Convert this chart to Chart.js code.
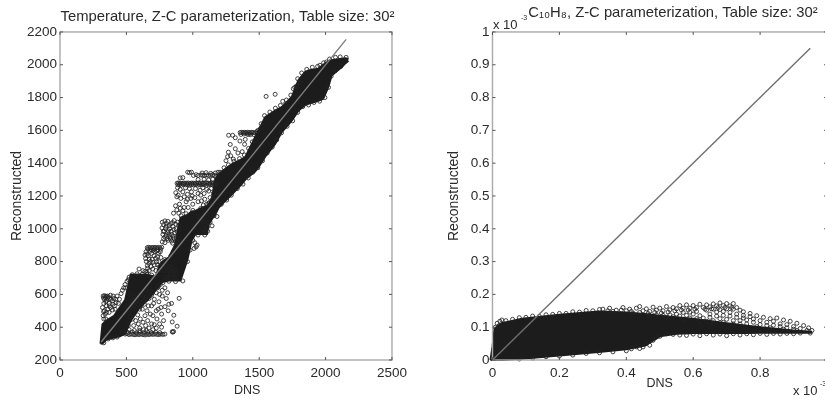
<!DOCTYPE html>
<html><head><meta charset="utf-8">
<script src="https://cdn.jsdelivr.net/npm/chart.js@4"></script>
<style>
html,body{margin:0;padding:0;background:#fff;overflow:hidden;width:825px;height:401px}
canvas{position:absolute;top:0;filter:blur(0.55px)}
#a{left:0}#b{left:412px}
</style></head><body>
<canvas id="a" width="412" height="401"></canvas>
<canvas id="b" width="522" height="401"></canvas>
<script>
// ---- Temperature panel
const tempTitle = "Temperature, Z-C parameterization, Table size: 30²";
const tempDiagonal = [[310,310],[2155,2155]];
const tempCoreX =     [305,320,350,407,450,490,532,600,660,720,745,770,820,870,907,957,975,990,1020,1045,1107,1120,1145,1170,1195,1245,1295,1370,1395,1470,1495,1545,1620,1670,1745,1795,1845,1870,1945,1982,2020,2045,2120,2150,2172];
const tempCoreUpper = [300,418,440,470,520,565,720,722,718,708,765,800,826,907,1068,1085,1095,1105,1109,1120,1140,1150,1190,1300,1335,1365,1395,1425,1437,1559,1600,1680,1720,1742,1803,1905,1956,1965,1976,2000,2020,2027,2037,2040,2035];
const tempCoreLower = [300,300,325,337,345,360,440,520,565,624,650,675,685,685,685,806,867,927,968,968,968,1028,1060,1089,1130,1170,1210,1274,1300,1350,1376,1440,1518,1590,1660,1720,1755,1762,1780,1793,1864,1935,1985,2010,2025];
const tempEdge = [
[1205,1345],[1235,1372],[1268,1390],[1310,1412],[1352,1428],[1388,1450],[1420,1490],[1448,1530],[1482,1592],[1515,1640],[1540,1690],[1580,1712],[1622,1735],[1660,1752],[1705,1785],[1738,1815],[1768,1862],[1790,1915],[1820,1950],[1858,1972],[1900,1985],[1940,1990],[1985,2012],[2030,2035],[2075,2045],[2110,2048],[2155,2045],
[1215,1150],[1255,1175],[1290,1205],[1335,1245],[1378,1272],[1418,1310],[1452,1345],[1490,1372],[1525,1415],[1560,1462],[1598,1498],[1632,1542],[1668,1585],[1710,1625],[1752,1658],[1790,1710],[1828,1745],[1872,1755],[1912,1770],[1955,1778],[1995,1800],[2022,1862],[2042,1930],[2075,1965],[2115,1990],
[545,720],[580,726],[620,724],[655,722],[690,718],[725,710],[755,770],[790,812],[835,835],[880,925],[912,1080],[950,1092],[1000,1112],[1060,1125],[1120,1155],
[565,535],[610,530],[650,580],[695,615],[740,648],[775,672],[820,680],[870,678],[925,682],[960,800],[980,870],[1000,930],[1040,962],[1090,962],[1112,985],[1130,1040],[1160,1080],
[330,305],[362,328],[398,335],[430,340],[470,365]
];
const tempOutliers = [
[1552,1807],[1620,1820],[1677,1777],[1757,1854],[1780,1870],[1957,1997],[2007,2017],[1810,1890],
[1270,1570],[1300,1570],[1282,1514],[1268,1467],[1320,1488],[1355,1535],[1390,1515],[1420,1575],[1340,1462],[1372,1470],[1262,1440],[1285,1445],[1305,1425],[1250,1415],[1420,1440],[1445,1495],[1470,1540],[1320,1555],[1395,1545],
[1145,1018],[1182,1075],[1445,1355],[595,755],[845,372],[850,370],[855,374],[882,406],[845,432],[857,473],[897,576]
];
const tempShelves = [
[1357,1587],[1368,1588],[1379,1587],[1390,1588],[1401,1586],[1412,1588],[1423,1587],[1434,1586],[1445,1588],[1456,1586],[1468,1585],[1482,1590],[1510,1612],[1490,1600],[1362,1575],[1385,1578],[1410,1577],[1435,1575],[1460,1574],
[882,1278],[893,1279],[905,1278],[918,1277],[930,1279],[942,1278],[955,1278],[967,1279],[980,1277],[992,1279],[1005,1278],[1018,1278],[1030,1277],[1043,1279],[1055,1278],[1068,1278],[1080,1277],[1093,1279],[1105,1278],[1118,1278],[1130,1277],[1143,1279],[1155,1278],[1170,1277],[1182,1278],
[888,1268],[900,1270],[914,1266],[928,1271],[946,1268],[960,1270],[976,1266],[990,1270],[1004,1268],[1022,1270],[1038,1266],[1052,1269],[1070,1268],[1086,1270],[1102,1266],[1120,1269],[1136,1270],[1150,1268],[1166,1266],
[905,1310],[925,1312],[962,1345],[975,1342],[990,1345],[1005,1325],[1025,1330],[1040,1325],[1062,1328],[1075,1326],[1090,1325],[1105,1328],[1120,1325],[1135,1326],[1150,1330],[1165,1325],[1180,1320],[1040,1300],[1085,1302],[1120,1298],[1150,1302],[1070,1340],[1100,1342],[1135,1338],[1170,1340],[1190,1345],
[657,885],[668,887],[680,884],[692,886],[704,885],[716,887],[728,884],[740,886],[752,885],[766,887],[662,875],[686,873],[710,876],[735,874],[758,875],
[325,590],[335,592],[345,588],[355,590],[365,585],[380,595],[400,590],[328,578],[342,580],[358,577],[372,576],
[470,370],[490,358],[505,360],[520,355],[535,358],[550,356],[565,354],[580,357],[595,355],[610,358],[625,355],[640,353],[655,357],[670,355],[685,358],[700,356],[715,358],[730,356],[745,355],[760,358],[775,356],[790,358],
[480,372],[512,368],[545,370],[575,366],[600,369],[632,366],[662,368],[690,367],[722,368],[752,367]
];
const tempBlocks = [
[885,1250],[872,1220],[880,1195],[890,1205],[990,1225],[995,1200],[1055,1235],[1105,1240],[1060,1205],[1120,1230],[1090,1180],[1130,1190],[950,1165],[935,1130],[900,1150],[880,1115],[895,1095],[925,1110],[965,1130],[1000,1150],[1040,1165],[985,1185],[870,1140],[855,1095],[1080,1145],
[905,1240],[925,1225],[945,1250],[960,1210],[975,1245],[1020,1245],[1040,1215],[1075,1250],[1140,1245],[1155,1215],[1150,1180],[910,1185],[935,1195],[960,1180],[905,1125],[1015,1190],[1085,1215],[1125,1160],[1105,1150],[1065,1170],
[770,1040],[790,1048],[812,1045],[835,1030],[860,1050],[885,1040],[768,1005],[785,985],[800,1015],[825,1000],[850,1015],[875,1000],[775,965],[790,950],[810,975],[840,965],[865,975],[890,960],[790,915],[815,930],[840,925],[860,940],[770,920],[880,920],[830,950],
[780,1025],[802,1032],[822,1020],[848,1038],[872,1028],[895,1020],[778,985],[795,1000],[815,988],[838,985],[858,995],[882,982],[800,960],[822,962],[852,955],[875,945],[805,940],[830,938],[848,912],[868,925],[895,940],[900,1000],[780,940],
[1075,1045],[1090,1020],[1055,1035],[1070,1000],[1095,985],[1040,1075],[1015,915],[1025,890],[1010,880],[1032,900],[1085,1060],[1060,1065],[1100,1040],[1110,1010],[1080,975],
[648,860],[665,835],[690,850],[715,860],[742,850],[650,800],[670,790],[695,815],[720,820],[745,800],[640,840],[660,760],[685,770],[710,780],[735,780],[640,740],[625,745],
[655,845],[678,862],[702,868],[728,866],[755,860],[645,818],[672,815],[708,835],[735,830],[760,825],[658,775],[680,800],[700,795],[728,800],[750,770],[672,745],[698,755],[722,745],[655,735],
[780,745],[800,760],[820,770],[845,765],[865,750],[790,705],[810,725],[830,735],[855,720],[880,700],[835,700],[805,695],[825,755],[848,745],[870,725],[815,705],[860,700],
[345,555],[370,545],[395,560],[420,570],[440,545],[320,520],[335,500],[360,510],[380,520],[410,530],[325,470],[345,450],[430,590],[460,605],[480,640],[505,680],[520,705],[490,660],
[335,570],[352,565],[382,570],[405,575],[330,545],[350,530],[372,530],[398,540],[422,550],[448,570],[328,495],[350,490],[370,490],[395,505],[330,450],[340,480],[415,510],[470,625],[515,690],[495,640],
[525,600],[560,585],[600,600],[640,625],[680,620],[725,610],[750,600],[770,590],[800,575],[790,640],[755,660],[840,545],[820,540],[790,525],[745,555],[710,570],[670,575],[630,565],[585,540],[550,510],[520,490],[545,450],[585,475],[620,510],[655,500],[690,530],[725,500],[700,470],[660,440],[625,430],[590,420],[555,410],[730,450],[765,480],[780,440],[750,420],[710,415],[670,395],[630,385],
[540,555],[575,560],[610,575],[650,590],[690,595],[735,640],[770,625],[810,610],[560,530],[600,510],[635,540],[665,530],[705,545],[760,520],[815,500],[525,440],[515,410],[570,440],[605,450],[640,470],[680,480],[740,510],[520,385],[560,380],[600,395],[645,410],[690,420],[725,395],[765,400],[600,380],[650,380],[700,385],[510,520],[530,465]
];
// ---- C10H8 panel
const nphTitle = "C₁₀H₈, Z-C parameterization, Table size: 30²";
const nphDiagonal = [[0,0],[0.95,0.95]];
const nphCoreX =     [-0.006,0,0.006,0.028,0.088,0.2,0.317,0.4,0.456,0.5,0.55,0.606,0.7,0.756,0.8,0.9,0.955];
const nphCoreUpper = [0,0.04,0.096,0.112,0.126,0.138,0.148,0.145,0.14,0.135,0.13,0.125,0.112,0.105,0.1,0.09,0.086];
const nphCoreLower = [0,0,0,0,0.004,0.014,0.024,0.033,0.044,0.072,0.08,0.082,0.082,0.082,0.083,0.083,0.083];
const nphTopEdge = [
[0.008,0.1],[0.014,0.112],[0.022,0.118],[0.028,0.122],[0.02,0.105],
[0.04,0.12],[0.06,0.124],[0.08,0.129],[0.1,0.13],[0.12,0.134],[0.14,0.133],[0.16,0.138],[0.18,0.139],[0.2,0.142],[0.22,0.142],[0.24,0.147],[0.26,0.146],[0.28,0.151],[0.3,0.15],[0.32,0.154],
[0.33,0.155],[0.35,0.158],[0.37,0.152],[0.39,0.16],[0.41,0.155],[0.43,0.158],[0.44,0.163],[0.46,0.156],[0.48,0.161],[0.5,0.158],[0.52,0.163],[0.54,0.16],[0.56,0.166],[0.58,0.168],[0.6,0.166],[0.62,0.17],[0.64,0.168],[0.66,0.171],[0.68,0.174],[0.7,0.172],[0.72,0.172],
[0.73,0.16],[0.75,0.147],[0.77,0.142],[0.79,0.135],[0.81,0.13],[0.83,0.126],[0.85,0.128],[0.87,0.122],[0.89,0.118],[0.91,0.112],[0.93,0.105],[0.945,0.098],[0.955,0.09]
];
const nphBand = [
[0.36,0.148],[0.4,0.15],[0.42,0.143],[0.45,0.15],[0.47,0.148],[0.49,0.152],[0.51,0.15],[0.53,0.153],[0.55,0.156],[0.57,0.158],[0.59,0.158],[0.61,0.16],[0.63,0.16],[0.65,0.162],[0.67,0.165],[0.69,0.166],[0.71,0.165],
[0.345,0.15],[0.385,0.152],[0.415,0.148],[0.44,0.145],[0.465,0.142],[0.485,0.145],[0.505,0.143],[0.525,0.146],[0.545,0.15],[0.565,0.152],[0.585,0.152],[0.605,0.155],[0.635,0.155],[0.655,0.156],[0.675,0.16],[0.695,0.16],[0.715,0.16],
[0.47,0.136],[0.49,0.138],[0.51,0.136],[0.53,0.138],[0.55,0.14],[0.57,0.145],[0.59,0.146],[0.61,0.148],[0.64,0.152],[0.66,0.155],[0.68,0.154],[0.7,0.156],[0.72,0.155],[0.74,0.152],
[0.52,0.13],[0.54,0.132],[0.56,0.134],[0.58,0.136],[0.6,0.14],[0.62,0.135],[0.65,0.14],[0.67,0.146],[0.69,0.148],[0.71,0.145],[0.73,0.14],[0.75,0.136],
[0.57,0.124],[0.59,0.128],[0.61,0.126],[0.63,0.128],[0.65,0.13],[0.67,0.134],[0.69,0.136],[0.71,0.134],[0.73,0.13],[0.75,0.128],[0.77,0.132],[0.74,0.12],[0.76,0.122],[0.72,0.12],[0.7,0.124],[0.68,0.126],[0.66,0.12],[0.64,0.118],[0.62,0.118],
[0.78,0.125],[0.8,0.12],[0.82,0.115],[0.84,0.118],[0.86,0.11],[0.88,0.108],[0.9,0.102],[0.92,0.096],[0.94,0.09],[0.78,0.115],[0.8,0.108],[0.82,0.105],[0.84,0.106],[0.86,0.102],[0.88,0.098],[0.9,0.094],[0.76,0.11],[0.74,0.11],[0.72,0.11],[0.69,0.115],[0.66,0.112],[0.79,0.102],[0.83,0.098],[0.87,0.094],[0.91,0.09]
];
const nphLowerEdge = [
[0.48,0.06],[0.46,0.05],[0.45,0.04],[0.44,0.035],[0.47,0.045],[0.49,0.07],[0.43,0.04],[0.415,0.034],[0.5,0.072],[0.52,0.08],[0.54,0.078],[0.56,0.076],[0.58,0.075],[0.62,0.074],[0.66,0.076],[0.7,0.074],[0.74,0.076],[0.78,0.077],[0.82,0.078],[0.86,0.079],[0.9,0.08],[0.95,0.082],
[0.08,0.003],[0.12,0.006],[0.16,0.01],[0.2,0.012],[0.24,0.015],[0.28,0.02],[0.32,0.022],[0.36,0.025],[0.4,0.028],[0.6,0.079],[0.64,0.08],[0.68,0.079],[0.72,0.08],[0.76,0.08],[0.8,0.081],[0.84,0.081],[0.88,0.081],[0.92,0.082]
];

const axisText = '#2a2a2a';
const boxPlugin = {
  id:'matlabBox',
  afterLayout(chart){
    const dx = chart.options.plugins.matlabBox.titleShift||0;
    chart.titleBlock.left += dx; chart.titleBlock.right += dx;
  },
  afterDatasetsDraw(chart){
    const {ctx,chartArea:a,scales:{x,y}} = chart;
    ctx.save();
    ctx.strokeStyle='#a9a9a9';ctx.lineWidth=1.4;
    ctx.strokeRect(a.left,a.top,a.right-a.left,a.bottom-a.top);
    ctx.strokeStyle='#555';ctx.lineWidth=1;ctx.beginPath();
    x.ticks.forEach(t=>{const p=x.getPixelForValue(t.value);ctx.moveTo(p,a.bottom);ctx.lineTo(p,a.bottom-3);ctx.moveTo(p,a.top);ctx.lineTo(p,a.top+3);});
    y.ticks.forEach(t=>{const p=y.getPixelForValue(t.value);ctx.moveTo(a.left,p);ctx.lineTo(a.left+3,p);ctx.moveTo(a.right,p);ctx.lineTo(a.right-3,p);});
    ctx.stroke();
    (chart.options.plugins.matlabBox.notes||[]).forEach(n=>{
      ctx.fillStyle=axisText;ctx.font=n.font;ctx.textAlign='left';ctx.textBaseline='middle';
      ctx.fillText(n.text,n.x,n.y);
    });
    ctx.restore();
  }
};
const pts = a => a.map(([x,y])=>({x,y}));
const zipXY = (xs,ys) => xs.map((x,i)=>({x,y:ys[i]}));

function panel(id,cfg){
  const font = {family:'"Liberation Sans",Arial,sans-serif',size:13.5};
  return new Chart(document.getElementById(id),{
    type:'scatter',
    data:{datasets:[
      {data:pts(cfg.diagonal),showLine:true,borderColor:cfg.lineColor,borderWidth:1.4,pointRadius:0,clip:false,order:0},
      {data:pts(cfg.circles),pointRadius:2,pointBorderWidth:0.85,pointBackgroundColor:'rgba(0,0,0,0)',pointBorderColor:'#222',clip:false,order:1},
      {data:zipXY(cfg.coreX,cfg.upper),showLine:true,fill:'+1',backgroundColor:'#1c1c1c',borderColor:'#1c1c1c',borderWidth:2,pointRadius:0,clip:false,order:2},
      {data:zipXY(cfg.coreX,cfg.lower),showLine:true,borderColor:'#1c1c1c',borderWidth:2,pointRadius:0,clip:false,order:3}
    ]},
    options:{
      responsive:false,animation:false,
      layout:{padding:{left:0,right:cfg.padRight,top:0,bottom:0}},
      plugins:{
        legend:{display:false},tooltip:{enabled:false},
        title:{display:true,text:cfg.title,color:axisText,
          font:{family:font.family,size:14.8,weight:'normal'},padding:cfg.titlePad},
        matlabBox:{notes:cfg.notes,titleShift:cfg.titleShift}
      },
      scales:{
        x:{type:'linear',min:cfg.xMin,max:cfg.xMax,grid:{display:false,tickLength:0,drawTicks:false},border:{display:false},
          ticks:{stepSize:cfg.xStep,color:axisText,font,padding:5,maxRotation:0,callback:cfg.xCb},
          title:{display:cfg.xTitle,text:'DNS',color:axisText,font:{family:font.family,size:12.5},padding:{top:0,bottom:10}},
          afterFit:s=>{s.height=41;}},
        y:{type:'linear',min:cfg.yMin,max:cfg.yMax,grid:{display:false,tickLength:0,drawTicks:false},border:{display:false},
          ticks:{stepSize:cfg.yStep,color:axisText,font,padding:3,callback:cfg.yCb},
          title:{display:true,text:'Reconstructed',color:axisText,font:{family:font.family,size:14},padding:{top:cfg.yTitlePad,bottom:0}},
          afterFit:s=>{s.width=cfg.yWidth;}}
      }
    },
    plugins:[boxPlugin]
  });
}
const tenths = v => Math.round(v*10)/10;

panel('a',{title:tempTitle,titlePad:{top:8,bottom:6.2},titleShift:30,diagonal:tempDiagonal,
  circles:[...tempEdge,...tempOutliers,...tempShelves,...tempBlocks],
  coreX:tempCoreX,upper:tempCoreUpper,lower:tempCoreLower,lineColor:'#7d7d7d',
  xMin:0,xMax:2500,xStep:500,yMin:200,yMax:2200,yStep:200,yWidth:60,padRight:17,yTitlePad:9,xTitle:false,
  xCb:v=>String(v),yCb:v=>String(v),
  notes:[{text:'DNS',x:234,y:391,font:'12.5px "Liberation Sans",Arial,sans-serif'}]});
panel('b',{title:nphTitle,titlePad:{top:4,bottom:10.2},titleShift:53.5,diagonal:nphDiagonal,
  circles:[...nphTopEdge,...nphBand,...nphLowerEdge],
  coreX:nphCoreX,upper:nphCoreUpper,lower:nphCoreLower,lineColor:'#6f6f6f',
  xMin:0,xMax:1,xStep:0.2,yMin:0,yMax:1,yStep:0.1,yWidth:80.5,padRight:107,yTitlePad:34,xTitle:true,
  xCb:v=>(v===1?'':String(tenths(v))),yCb:v=>String(tenths(v)),
  notes:[{text:'x 10',x:81,y:25,font:'13px "Liberation Sans",Arial,sans-serif'},
         {text:'-3',x:109,y:18,font:'7px "Liberation Sans",Arial,sans-serif'},
         {text:'x 10',x:381,y:391,font:'13px "Liberation Sans",Arial,sans-serif'},
         {text:'-3',x:408,y:384,font:'7px "Liberation Sans",Arial,sans-serif'}]});
</script>
</body></html>
